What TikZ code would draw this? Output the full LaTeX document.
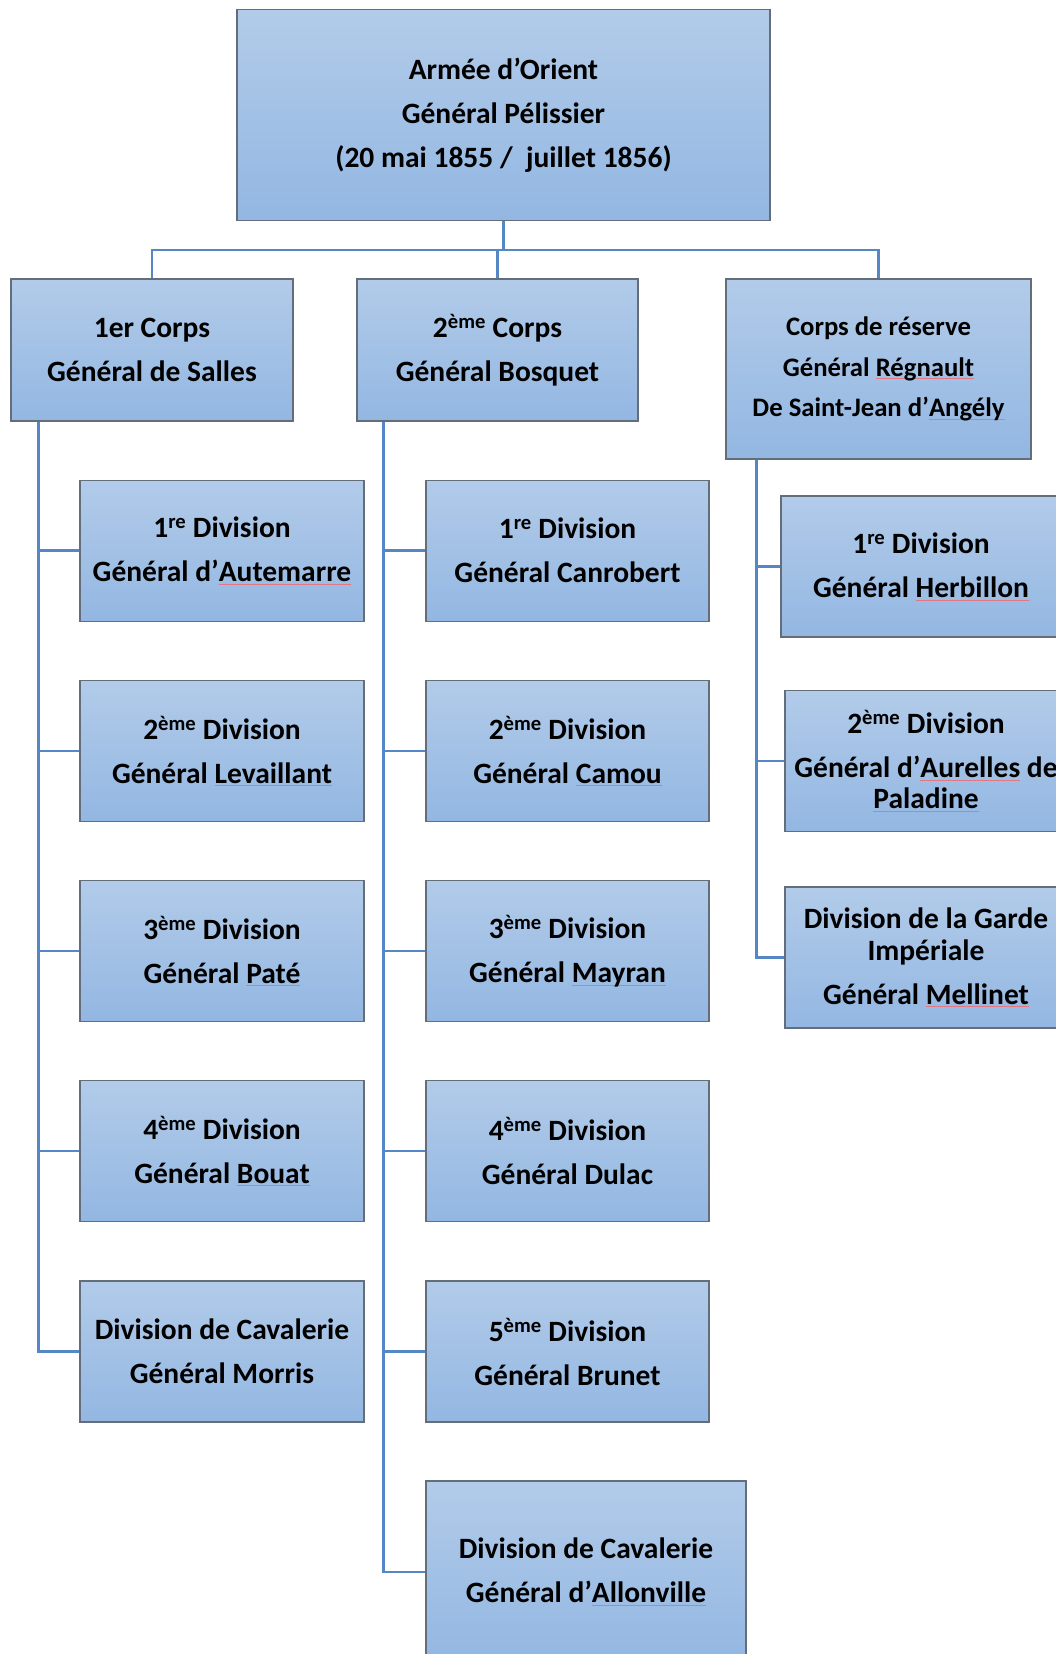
\documentclass[tikz,border=0pt]{standalone}
\usepackage{fontspec}
\setmainfont{Carlito}
\usetikzlibrary{positioning}
\definecolor{boxtop}{RGB}{178,203,233}
\definecolor{boxbot}{RGB}{147,183,226}
\definecolor{boxline}{RGB}{100,110,122}
\definecolor{connc}{RGB}{84,135,195}
\definecolor{spellred}{RGB}{226,120,130}
\newlength\spllen
\newcommand\spl[1]{\settowidth\spllen{#1}\rlap{\textcolor{spellred}{\rule[-3pt]{\spllen}{0.8pt}}}#1}
\newcommand\pb{\\[12.4pt]}
\tikzset{
  orgbox/.style={draw=boxline, line width=1.3pt, top color=boxtop, bottom color=boxbot,
    rectangle, align=center, inner sep=2pt, font=\fontsize{29.5}{31.6}\selectfont\bfseries},
  conn/.style={draw=connc, line width=2.8pt},
}
\begin{document}
\begin{tikzpicture}[x=1pt,y=-1pt]
\useasboundingbox (0,0) rectangle (1056,1654);
\clip (0,0) rectangle (1056,1654);
\fill[white] (0,0) rectangle (1056,1654);

% top
\node[orgbox, minimum width=533pt, minimum height=211pt] (top) at (503.5,115)
  {Armée d’Orient\pb Général Pélissier\pb (20 mai 1855 /\ \ juillet 1856)};

% corps
\node[orgbox, minimum width=282pt, minimum height=142pt] (c1) at (152,350)
  {1er Corps\pb Général de Salles};
\node[orgbox, minimum width=281pt, minimum height=142pt] (c2) at (497.5,350)
  {2\textsuperscript{ème} Corps\pb Général Bosquet};
\node[orgbox, minimum width=305pt, minimum height=180pt, font=\fontsize{26.7}{29}\selectfont\bfseries] (cr) at (878.5,369)
  {Corps de réserve\\[11.5pt] Général \spl{Régnault}\\[11.5pt] De Saint-Jean d’\spl{Angély}};

% left column
\tikzset{dl/.style={orgbox, minimum width=284pt, minimum height=141pt}}
\node[dl] (d11) at (222,550.7) {1\textsuperscript{re} Division\pb Général d’\spl{Autemarre}};
\node[dl] (d12) at (222,751) {2\textsuperscript{ème} Division\pb Général \spl{Levaillant}};
\node[dl] (d13) at (222,951) {3\textsuperscript{ème} Division\pb Général \spl{Paté}};
\node[dl] (d14) at (222,1151) {4\textsuperscript{ème} Division\pb Général \spl{Bouat}};
\node[dl] (d15) at (222,1351.5) {Division de Cavalerie\pb Général Morris};

% middle column
\tikzset{dm/.style={orgbox, minimum width=283pt, minimum height=141pt}}
\node[dm] (d21) at (567.5,550.7) {1\textsuperscript{re} Division\pb Général Canrobert};
\node[dm] (d22) at (567.5,751) {2\textsuperscript{ème} Division\pb Général \spl{Camou}};
\node[dm] (d23) at (567.5,951) {3\textsuperscript{ème} Division\pb Général \spl{Mayran}};
\node[dm] (d24) at (567.5,1151) {4\textsuperscript{ème} Division\pb Général Dulac};
\node[dm] (d25) at (567.5,1351.5) {5\textsuperscript{ème} Division\pb Général Brunet};
\node[orgbox, minimum width=320pt, minimum height=182pt] (d26) at (586,1572)
  {Division de Cavalerie\pb Général d’\spl{Allonville}};

% right column
\node[orgbox, minimum width=280pt, minimum height=141pt] (d31) at (921,566.5)
  {1\textsuperscript{re} Division\pb Général \spl{Herbillon}};
\node[orgbox, minimum width=282pt, minimum height=141pt] (d32) at (926,761)
  {2\textsuperscript{ème} Division\pb Général d’\spl{Aurelles} de\\ \spl{Paladine}};
\node[orgbox, minimum width=282pt, minimum height=141pt] (d33) at (926,957.5)
  {Division de la Garde\\ Impériale\pb Général \spl{Mellinet}};

% connectors
\coordinate (bus) at (503.5,250);
\draw[conn] (top.south) -- (bus);
\draw[conn] (c1.north) -- (c1.north |- bus) -- (cr.north |- bus) -- (cr.north);
\draw[conn] (c2.north) -- (c2.north |- bus);

\coordinate (t1) at ([xshift=28pt]c1.south west);
\draw[conn] (t1) |- (d15.west);
\foreach \i in {1,...,4} \draw[conn] (t1 |- d1\i.west) -- (d1\i.west);

\coordinate (t2) at ([xshift=27pt]c2.south west);
\draw[conn] (t2) |- (d26.west);
\foreach \i in {1,...,5} \draw[conn] (t2 |- d2\i.west) -- (d2\i.west);

\coordinate (t3) at ([xshift=31.5pt]cr.south west);
\draw[conn] (t3) |- (d33.west);
\foreach \i in {1,2} \draw[conn] (t3 |- d3\i.west) -- (d3\i.west);
\end{tikzpicture}
\end{document}
